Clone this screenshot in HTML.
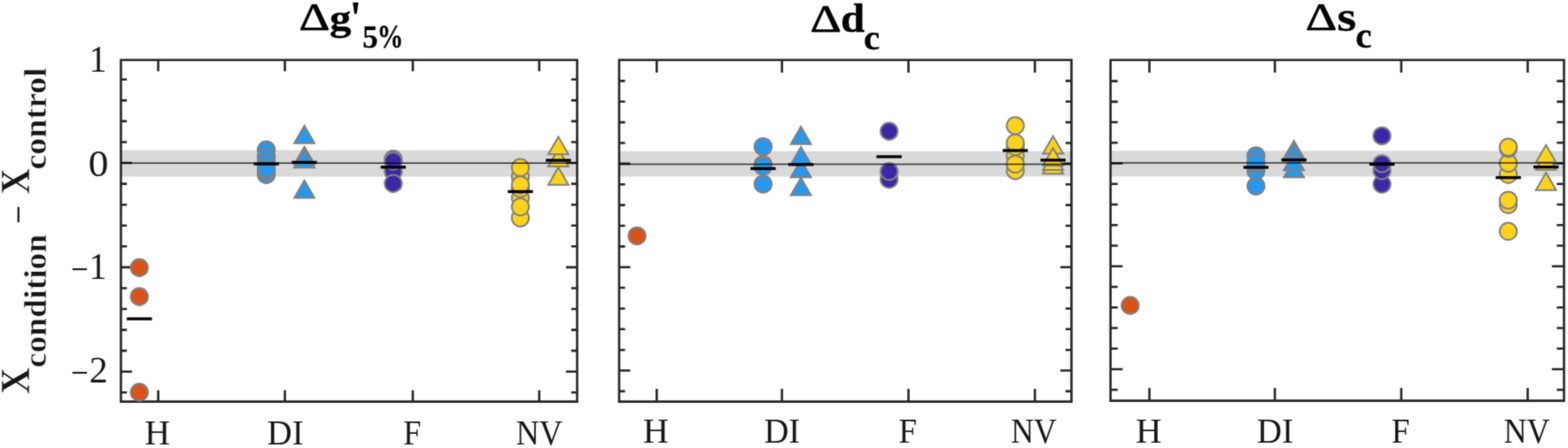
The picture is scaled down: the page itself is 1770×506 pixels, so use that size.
<!DOCTYPE html>
<html lang="en">
<head>
<meta charset="utf-8">
<title>Condition minus control</title>
<style>
html,body{margin:0;padding:0;background:#fff}
body{width:1770px;height:506px;overflow:hidden}
svg{display:block}
text{white-space:pre}
</style>
</head>
<body>
<svg width="1770" height="506" viewBox="0 0 1770 506">
<defs><filter id="soft" x="0" y="0" width="1770" height="506" filterUnits="userSpaceOnUse" color-interpolation-filters="sRGB"><feConvolveMatrix order="3" kernelMatrix="0.035 0.09 0.035 0.09 0.5 0.09 0.035 0.09 0.035" edgeMode="duplicate" preserveAlpha="false"/></filter></defs>
<g filter="url(#soft)">
<rect width="1770" height="506" fill="#fff"/>
<g id="panel1">
<rect x="136.5" y="169.6" width="515" height="29.9" fill="#D9D9D9"/>
<path d="M136.5 67.7H651.5V453.6H136.5ZM178.6 453.6v-12.8M178.6 67.7v12.8M321.6 453.6v-12.8M321.6 67.7v12.8M466 453.6v-12.8M466 67.7v12.8M608.7 453.6v-12.8M608.7 67.7v12.8M136.5 443.28h6.7M651.5 443.28h-6.7M136.5 419.71h12.6M651.5 419.71h-12.6M136.5 396.14h6.7M651.5 396.14h-6.7M136.5 372.58h6.7M651.5 372.58h-6.7M136.5 349.01h6.7M651.5 349.01h-6.7M136.5 325.45h6.7M651.5 325.45h-6.7M136.5 301.88h12.6M651.5 301.88h-12.6M136.5 278.31h6.7M651.5 278.31h-6.7M136.5 254.75h6.7M651.5 254.75h-6.7M136.5 231.18h6.7M651.5 231.18h-6.7M136.5 207.62h6.7M651.5 207.62h-6.7M136.5 184.05h12.6M651.5 184.05h-12.6M136.5 160.48h6.7M651.5 160.48h-6.7M136.5 136.92h6.7M651.5 136.92h-6.7M136.5 113.35h6.7M651.5 113.35h-6.7M136.5 89.79h6.7M651.5 89.79h-6.7" fill="none" stroke="#262626" stroke-width="2.6"/>
<g stroke="#808080" stroke-width="2.0">
<circle cx="157.3" cy="302.3" r="9.7" fill="#D95319"/>
<circle cx="157.3" cy="335" r="9.7" fill="#D95319"/>
<circle cx="157.3" cy="443" r="9.7" fill="#D95319"/>
<circle cx="300.6" cy="169.3" r="9.7" fill="#2698EE"/>
<circle cx="300.6" cy="177.4" r="9.7" fill="#2698EE"/>
<circle cx="300.6" cy="184.3" r="9.7" fill="#2698EE"/>
<circle cx="300.6" cy="197.2" r="9.7" fill="#2698EE"/>
<circle cx="300.6" cy="193.6" r="9.7" fill="#2698EE"/>
<circle cx="300.6" cy="190.6" r="9.7" fill="#2698EE"/>
<path d="M343.6 141.95L354.99 161.68L332.21 161.68Z" fill="#2698EE"/>
<path d="M343.6 165.65L354.99 185.38L332.21 185.38Z" fill="#2698EE"/>
<path d="M343.6 169.5L354.99 189.22L332.21 189.22Z" fill="#2698EE"/>
<path d="M343.6 203.65L354.99 223.38L332.21 223.38Z" fill="#2698EE"/>
<circle cx="443.9" cy="193.5" r="9.7" fill="#3E26A8"/>
<circle cx="443.9" cy="179.8" r="9.7" fill="#3E26A8"/>
<circle cx="443.9" cy="182" r="9.7" fill="#3E26A8"/>
<circle cx="443.9" cy="207.2" r="9.7" fill="#3E26A8"/>
<circle cx="587.4" cy="199.9" r="9.7" fill="#FED318"/>
<circle cx="587.4" cy="223.5" r="9.7" fill="#FED318"/>
<circle cx="587.4" cy="189.3" r="9.7" fill="#FED318"/>
<circle cx="587.4" cy="212.9" r="9.7" fill="#FED318"/>
<circle cx="587.4" cy="208.8" r="9.7" fill="#FED318"/>
<circle cx="587.4" cy="246.1" r="9.7" fill="#FED318"/>
<circle cx="587.4" cy="233.6" r="9.7" fill="#FED318"/>
<path d="M630.3 189.05L641.69 208.78L618.91 208.78Z" fill="#FED318"/>
<path d="M630.3 168.15L641.69 187.88L618.91 187.88Z" fill="#FED318"/>
<path d="M630.3 154.45L641.69 174.18L618.91 174.18Z" fill="#FED318"/>
</g>
<line x1="136.5" y1="184.15" x2="651.5" y2="184.15" stroke="#000" stroke-opacity="0.78" stroke-width="1.5"/>
<line x1="143.1" y1="360.1" x2="171.5" y2="360.1" stroke="#000" stroke-width="3.3"/>
<line x1="286.4" y1="185.1" x2="314.8" y2="185.1" stroke="#000" stroke-width="3.3"/>
<line x1="329.4" y1="183.4" x2="357.8" y2="183.4" stroke="#000" stroke-width="3.3"/>
<line x1="429.7" y1="188.8" x2="458.1" y2="188.8" stroke="#000" stroke-width="3.3"/>
<line x1="573.2" y1="216.4" x2="601.6" y2="216.4" stroke="#000" stroke-width="3.3"/>
<line x1="616.1" y1="181.1" x2="644.5" y2="181.1" stroke="#000" stroke-width="3.3"/>
</g>
<g id="panel2">
<rect x="698.9" y="170.8" width="510.6" height="28.6" fill="#D9D9D9"/>
<path d="M698.9 67.7H1209.5V453.6H698.9ZM741.3 453.6v-14.3M741.3 67.7v14.3M882.7 453.6v-14.3M882.7 67.7v14.3M1025.5 453.6v-14.3M1025.5 67.7v14.3M1168.2 453.6v-14.3M1168.2 67.7v14.3M698.9 441.92h6.7M1209.5 441.92h-6.7M698.9 418.55h12.6M1209.5 418.55h-12.6M698.9 395.18h6.7M1209.5 395.18h-6.7M698.9 371.81h6.7M1209.5 371.81h-6.7M698.9 348.44h6.7M1209.5 348.44h-6.7M698.9 325.07h6.7M1209.5 325.07h-6.7M698.9 301.7h12.6M1209.5 301.7h-12.6M698.9 278.33h6.7M1209.5 278.33h-6.7M698.9 254.96h6.7M1209.5 254.96h-6.7M698.9 231.59h6.7M1209.5 231.59h-6.7M698.9 208.22h6.7M1209.5 208.22h-6.7M698.9 184.85h12.6M1209.5 184.85h-12.6M698.9 161.48h6.7M1209.5 161.48h-6.7M698.9 138.11h6.7M1209.5 138.11h-6.7M698.9 114.74h6.7M1209.5 114.74h-6.7M698.9 91.37h6.7M1209.5 91.37h-6.7" fill="none" stroke="#262626" stroke-width="2.6"/>
<g stroke="#808080" stroke-width="2.0">
<circle cx="719.1" cy="266.4" r="9.7" fill="#D95319"/>
<circle cx="861.4" cy="185.9" r="9.7" fill="#2698EE"/>
<circle cx="861.4" cy="188" r="9.7" fill="#2698EE"/>
<circle cx="861.4" cy="165.65" r="9.7" fill="#2698EE"/>
<circle cx="861.4" cy="207.9" r="9.7" fill="#2698EE"/>
<path d="M904.1 143.05L915.49 162.78L892.71 162.78Z" fill="#2698EE"/>
<path d="M904.1 180.55L915.49 200.28L892.71 200.28Z" fill="#2698EE"/>
<path d="M904.1 166.05L915.49 185.78L892.71 185.78Z" fill="#2698EE"/>
<path d="M904.1 200.75L915.49 220.47L892.71 220.47Z" fill="#2698EE"/>
<circle cx="1003.65" cy="148.2" r="9.7" fill="#3E26A8"/>
<circle cx="1003.65" cy="202.5" r="9.7" fill="#3E26A8"/>
<circle cx="1003.65" cy="193.6" r="9.7" fill="#3E26A8"/>
<circle cx="1146.1" cy="176" r="9.7" fill="#FED318"/>
<circle cx="1146.1" cy="192.7" r="9.7" fill="#FED318"/>
<circle cx="1146.1" cy="165.5" r="9.7" fill="#FED318"/>
<circle cx="1146.1" cy="161.5" r="9.7" fill="#FED318"/>
<circle cx="1146.1" cy="141.9" r="9.7" fill="#FED318"/>
<circle cx="1146.1" cy="185.4" r="9.7" fill="#FED318"/>
<path d="M1188.7 176.45L1200.09 196.18L1177.31 196.18Z" fill="#FED318"/>
<path d="M1188.7 172.25L1200.09 191.97L1177.31 191.97Z" fill="#FED318"/>
<path d="M1188.7 153.65L1200.09 173.38L1177.31 173.38Z" fill="#FED318"/>
<path d="M1188.7 167.15L1200.09 186.88L1177.31 186.88Z" fill="#FED318"/>
</g>
<line x1="698.9" y1="185.6" x2="1209.5" y2="185.6" stroke="#000" stroke-opacity="0.78" stroke-width="1.5"/>
<line x1="847.2" y1="190.4" x2="875.6" y2="190.4" stroke="#000" stroke-width="3.3"/>
<line x1="889.9" y1="185.8" x2="918.3" y2="185.8" stroke="#000" stroke-width="3.3"/>
<line x1="989.45" y1="177" x2="1017.85" y2="177" stroke="#000" stroke-width="3.3"/>
<line x1="1131.9" y1="170" x2="1160.3" y2="170" stroke="#000" stroke-width="3.3"/>
<line x1="1174.5" y1="180.85" x2="1202.9" y2="180.85" stroke="#000" stroke-width="3.3"/>
</g>
<g id="panel3">
<rect x="1253.6" y="170.3" width="511.9" height="29.1" fill="#D9D9D9"/>
<path d="M1253.6 67.7H1765.5V452.6H1253.6ZM1297.5 452.6v-14.4M1297.5 67.7v14.4M1439.1 452.6v-14.4M1439.1 67.7v14.4M1581.8 452.6v-14.4M1581.8 67.7v14.4M1724.5 452.6v-14.4M1724.5 67.7v14.4M1253.6 440.19h8.1M1765.5 440.19h-8.1M1253.6 416.95h13.7M1765.5 416.95h-13.7M1253.6 393.71h8.1M1765.5 393.71h-8.1M1253.6 370.47h8.1M1765.5 370.47h-8.1M1253.6 347.23h8.1M1765.5 347.23h-8.1M1253.6 323.99h8.1M1765.5 323.99h-8.1M1253.6 300.75h13.7M1765.5 300.75h-13.7M1253.6 277.51h8.1M1765.5 277.51h-8.1M1253.6 254.27h8.1M1765.5 254.27h-8.1M1253.6 231.03h8.1M1765.5 231.03h-8.1M1253.6 207.79h8.1M1765.5 207.79h-8.1M1253.6 184.55h13.7M1765.5 184.55h-13.7M1253.6 161.31h8.1M1765.5 161.31h-8.1M1253.6 138.07h8.1M1765.5 138.07h-8.1M1253.6 114.83h8.1M1765.5 114.83h-8.1M1253.6 91.59h8.1M1765.5 91.59h-8.1" fill="none" stroke="#262626" stroke-width="2.6"/>
<g stroke="#808080" stroke-width="2.0">
<circle cx="1275.8" cy="345" r="9.7" fill="#D95319"/>
<circle cx="1417.75" cy="210.1" r="9.7" fill="#2698EE"/>
<circle cx="1417.75" cy="193" r="9.7" fill="#2698EE"/>
<circle cx="1417.75" cy="185.2" r="9.7" fill="#2698EE"/>
<circle cx="1417.75" cy="175.9" r="9.7" fill="#2698EE"/>
<circle cx="1417.75" cy="182.7" r="9.7" fill="#2698EE"/>
<path d="M1460.6 180.55L1471.99 200.28L1449.21 200.28Z" fill="#2698EE"/>
<path d="M1460.6 158.95L1471.99 178.68L1449.21 178.68Z" fill="#2698EE"/>
<path d="M1460.6 162.15L1471.99 181.88L1449.21 181.88Z" fill="#2698EE"/>
<path d="M1460.6 172.45L1471.99 192.18L1449.21 192.18Z" fill="#2698EE"/>
<circle cx="1560" cy="208" r="9.7" fill="#3E26A8"/>
<circle cx="1560" cy="192.7" r="9.7" fill="#3E26A8"/>
<circle cx="1560" cy="184.9" r="9.7" fill="#3E26A8"/>
<circle cx="1560" cy="153.4" r="9.7" fill="#3E26A8"/>
<circle cx="1702.6" cy="197" r="9.7" fill="#FED318"/>
<circle cx="1702.6" cy="184.4" r="9.7" fill="#FED318"/>
<circle cx="1702.6" cy="167.6" r="9.7" fill="#FED318"/>
<circle cx="1702.6" cy="166.1" r="9.7" fill="#FED318"/>
<circle cx="1702.6" cy="231.1" r="9.7" fill="#FED318"/>
<circle cx="1702.6" cy="226.1" r="9.7" fill="#FED318"/>
<circle cx="1702.6" cy="261.3" r="9.7" fill="#FED318"/>
<path d="M1745.2 172.05L1756.59 191.78L1733.81 191.78Z" fill="#FED318"/>
<path d="M1745.2 163.65L1756.59 183.38L1733.81 183.38Z" fill="#FED318"/>
<path d="M1745.2 194.95L1756.59 214.68L1733.81 214.68Z" fill="#FED318"/>
</g>
<line x1="1253.6" y1="184.1" x2="1765.5" y2="184.1" stroke="#000" stroke-opacity="0.78" stroke-width="1.5"/>
<line x1="1403.55" y1="189" x2="1431.95" y2="189" stroke="#000" stroke-width="3.3"/>
<line x1="1446.4" y1="180.6" x2="1474.8" y2="180.6" stroke="#000" stroke-width="3.3"/>
<line x1="1545.8" y1="185.5" x2="1574.2" y2="185.5" stroke="#000" stroke-width="3.3"/>
<line x1="1688.4" y1="200.6" x2="1716.8" y2="200.6" stroke="#000" stroke-width="3.3"/>
<line x1="1731" y1="188.6" x2="1759.4" y2="188.6" stroke="#000" stroke-width="3.3"/>
</g>
<g font-family="'Liberation Serif', 'DejaVu Serif', serif" fill="#161616">
<text><tspan x="100.6" y="80.9" font-size="41.36" textLength="20" lengthAdjust="spacingAndGlyphs">1</tspan></text>
<text><tspan x="99.7" y="198.87" font-size="42.81" textLength="22.71" lengthAdjust="spacingAndGlyphs">0</tspan></text>
<text><tspan x="80.04" y="317.55" font-size="41.36" textLength="19.89" lengthAdjust="spacingAndGlyphs">−</tspan><tspan x="100.6" y="315" font-size="41.36" textLength="20" lengthAdjust="spacingAndGlyphs">1</tspan></text>
<text><tspan x="80.04" y="435.35" font-size="41.96" textLength="19.89" lengthAdjust="spacingAndGlyphs">−</tspan><tspan x="100.81" y="432.3" font-size="41.96" textLength="21" lengthAdjust="spacingAndGlyphs">2</tspan></text>
<text><tspan x="163.3" y="501.6" font-size="39.39" textLength="28.78" lengthAdjust="spacingAndGlyphs">H</tspan></text>
<text><tspan x="301.53" y="501.6" font-size="39.39" textLength="41.14" lengthAdjust="spacingAndGlyphs">DI</tspan></text>
<text><tspan x="455.31" y="501.6" font-size="39.39" textLength="20.2" lengthAdjust="spacingAndGlyphs">F</tspan></text>
<text><tspan x="582.51" y="501.6" font-size="39.39" textLength="52.42" lengthAdjust="spacingAndGlyphs">NV</tspan></text>
<text><tspan x="725.69" y="500.4" font-size="40.31" textLength="29.1" lengthAdjust="spacingAndGlyphs">H</tspan></text>
<text><tspan x="862.44" y="500.4" font-size="40.31" textLength="40.72" lengthAdjust="spacingAndGlyphs">DI</tspan></text>
<text><tspan x="1014.39" y="500.4" font-size="40.31" textLength="20.54" lengthAdjust="spacingAndGlyphs">F</tspan></text>
<text><tspan x="1141.33" y="500.4" font-size="40.31" textLength="51.49" lengthAdjust="spacingAndGlyphs">NV</tspan></text>
<text><tspan x="1281.88" y="500.4" font-size="40.61" textLength="29.32" lengthAdjust="spacingAndGlyphs">H</tspan></text>
<text><tspan x="1418.83" y="500.4" font-size="40.61" textLength="41.25" lengthAdjust="spacingAndGlyphs">DI</tspan></text>
<text><tspan x="1570.69" y="500.4" font-size="40.61" textLength="20.66" lengthAdjust="spacingAndGlyphs">F</tspan></text>
<text><tspan x="1697.62" y="500.4" font-size="40.61" textLength="51.9" lengthAdjust="spacingAndGlyphs">NV</tspan></text>
<text fill="#000" stroke="#000" stroke-width="0.3" stroke-linejoin="round"><tspan x="337.41" y="34.35" font-size="43.48" stroke-width="0.7" textLength="34.9" lengthAdjust="spacingAndGlyphs">Δ</tspan><tspan x="372" y="33.71" font-size="42.46" font-weight="bold" textLength="24.54" lengthAdjust="spacingAndGlyphs">g</tspan><tspan x="394.63" y="37.91" font-size="52.77" font-weight="bold" textLength="13.34" lengthAdjust="spacingAndGlyphs">'</tspan><tspan x="409.26" y="54.49" font-size="36.39" font-weight="bold" textLength="17.4" lengthAdjust="spacingAndGlyphs">5</tspan><tspan x="425.71" y="54.38" font-size="37.79" font-weight="bold" textLength="29.66" lengthAdjust="spacingAndGlyphs">%</tspan></text>
<text fill="#000" stroke="#000" stroke-width="0.3" stroke-linejoin="round"><tspan x="914.49" y="35.85" font-size="43.94" stroke-width="0.7" textLength="35.24" lengthAdjust="spacingAndGlyphs">Δ</tspan><tspan x="949.09" y="36.48" font-size="46.81" font-weight="bold" textLength="27.2" lengthAdjust="spacingAndGlyphs">d</tspan><tspan x="975.11" y="55.65" font-size="39.79" font-weight="bold" textLength="18.22" lengthAdjust="spacingAndGlyphs">c</tspan></text>
<text fill="#000" stroke="#000" stroke-width="0.3" stroke-linejoin="round"><tspan x="1473.78" y="34.35" font-size="43.48" stroke-width="0.7" textLength="35.47" lengthAdjust="spacingAndGlyphs">Δ</tspan><tspan x="1509.17" y="34.96" font-size="48.96" font-weight="bold" textLength="21.84" lengthAdjust="spacingAndGlyphs">s</tspan><tspan x="1530.31" y="54.26" font-size="39.38" font-weight="bold" textLength="18.22" lengthAdjust="spacingAndGlyphs">c</tspan></text>
<text transform="rotate(-90)" stroke="#fff" stroke-width="0.5"><tspan x="-444.98" y="32.95" font-size="45.95" font-weight="bold" textLength="29.93" lengthAdjust="spacingAndGlyphs">X</tspan><tspan x="-415.17" y="51.99" font-size="35.89" font-weight="bold" textLength="150.52" lengthAdjust="spacingAndGlyphs">condition</tspan> <tspan x="-252.76" y="36.13" font-size="45.8" stroke="none" textLength="20.98" lengthAdjust="spacingAndGlyphs">−</tspan> <tspan x="-219.15" y="32.95" font-size="45.95" font-weight="bold" textLength="28.99" lengthAdjust="spacingAndGlyphs">X</tspan><tspan x="-191.58" y="51.99" font-size="35.89" font-weight="bold" textLength="115.16" lengthAdjust="spacingAndGlyphs">control</tspan></text>
</g>
</g>
</svg>
</body>
</html>
